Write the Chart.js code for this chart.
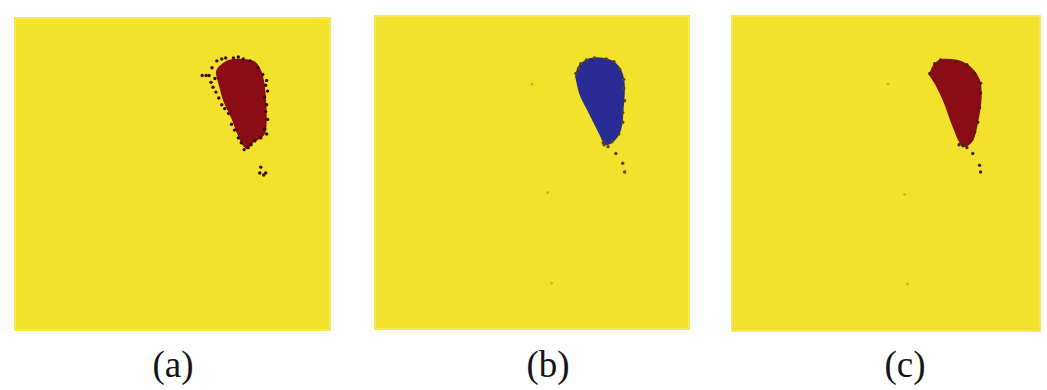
<!DOCTYPE html>
<html>
<head>
<meta charset="utf-8">
<script src="https://cdn.jsdelivr.net/npm/chart.js@4.4.1/dist/chart.umd.min.js"></script>
<style>
  body { margin: 0; background: #fff; width: 1047px; height: 390px; overflow: hidden; position: relative; }
  .panel { position: absolute; }
  .lbl { position: absolute; top: 344px; width: 90px; text-align: center; font-family: "Liberation Serif", serif;
         font-size: 37px; line-height: 42px; color: #151515; }
</style>
</head>
<body>
<div class="panel" style="left:10px;top:13px"><canvas id="chartA" width="325" height="322"></canvas></div>
<div class="panel" style="left:370px;top:11px"><canvas id="chartB" width="324" height="323"></canvas></div>
<div class="panel" style="left:727px;top:11px"><canvas id="chartC" width="318" height="325"></canvas></div>
<div id="labels"></div>
<script>
// panel captions
const panelLabels = ['(a)', '(b)', '(c)'];
const labelCenters = [173, 548, 905];

// blob outlines, in pixels from the top-left corner of each panel
const outlineA = [[210,52],[220,45],[235,44],[247,47],[254,60],[257,80],[258,104],[256,120],[245,128],[238,134],[230,120],[224,104],[216,87],[211,70],[208,57]];
const outlineB = [[207,62],[211,52],[222,45],[240,46],[251,54],[256,70],[255,95],[253,115],[248,126],[238,132],[231,120],[221,100],[212,82]];
const outlineC = [[204,61],[209,51],[218,46],[240,50],[254,66],[256,86],[252,112],[247,129],[238,134],[229,116],[219,89],[211,72]];

// dark dots on the rim and the tail below each blob
const rimA = [[193,60],[197,60],[200,60],[203,52],[208,45],[213,43],[217,42],[225,42],[230,41],[235,43],[242,45],[250,52],[255,59],[259,65],[258,70],[260,76],[257,82],[259,90],[258,97],[260,105],[257,115],[259,120],[253,124],[247,127],[243,131],[240,134],[236,136],[233,129],[230,124],[226,116],[223,110],[220,99],[216,94],[213,90],[210,83],[207,77],[204,72],[202,67],[206,63],[253,154],[252,160],[256,162],[258,160]];
const rimB = [[207,60],[210,55],[212,50],[218,46],[226,44],[238,45],[246,48],[252,56],[256,66],[256,75],[257,88],[255,100],[255,110],[251,122],[244,130],[236,133],[240,135],[235,131],[248,142],[255,152],[257,161]];
const rimC = [[204,60],[209,50],[215,46],[230,48],[242,51],[250,60],[256,70],[256,80],[255,95],[253,110],[250,120],[247,128],[238,134],[242,136],[234,133],[248,142],[255,154],[256,161]];

// faint marks elsewhere in the panel
const faintB = [[162,71],[178,182],[182,275]];
const faintC = [[161,71],[178,184],[181,276]];

const yellow = 'rgb(242,226,44)';

const yellowBg = {
  id: 'yellowBg',
  beforeDraw(chart) {
    const ctx = chart.ctx;
    const a = chart.chartArea;
    ctx.save();
    ctx.fillStyle = yellow;
    ctx.fillRect(a.left, a.top, a.right - a.left, a.bottom - a.top);
    ctx.strokeStyle = 'rgba(255,248,190,0.3)';
    ctx.lineWidth = 2;
    ctx.strokeRect(a.left + 1, a.top + 1, a.right - a.left - 2, a.bottom - a.top - 2);
    ctx.restore();
  }
};

const toPts = (arr) => arr.map(p => ({ x: p[0], y: p[1] }));

const makePanel = (id, w, h, outline, rim, faint, fillColor, rimColor) => {
  let ring = outline.concat([outline[0]]);
  new Chart(document.getElementById(id).getContext('2d'), {
    type: 'scatter',
    data: {
      datasets: [
        { data: toPts(ring), showLine: true, fill: 'shape', tension: 0.35, backgroundColor: fillColor,
          borderColor: fillColor, borderWidth: 2, pointRadius: 0, order: 2 },
        { data: toPts(rim), pointRadius: 1.7, backgroundColor: rimColor, borderWidth: 0, order: 1 },
        { data: toPts(faint), pointRadius: 1.4, backgroundColor: 'rgba(170,150,40,0.6)', borderWidth: 0, order: 0 }
      ]
    },
    options: {
      responsive: false,
      animation: false,
      layout: { padding: 0 },
      plugins: { legend: { display: false }, tooltip: { enabled: false } },
      scales: {
        x: { type: 'linear', min: 0, max: w, display: false },
        y: { min: 0, max: h, reverse: true, display: false }
      }
    },
    plugins: [yellowBg]
  });
};

makePanel('chartA', 325, 322, outlineA, rimA, [], 'rgb(138,12,20)', 'rgb(55,10,10)');
makePanel('chartB', 324, 323, outlineB, rimB, faintB, 'rgb(40,44,148)', 'rgb(90,65,30)');
makePanel('chartC', 318, 325, outlineC, rimC, faintC, 'rgb(138,12,20)', 'rgb(80,30,15)');

let html = '';
panelLabels.forEach((t, i) => {
  html += '<div class="lbl" style="left:' + (labelCenters[i] - 45) + 'px">' + t + '</div>';
});
document.getElementById('labels').innerHTML = html;
</script>
</body>
</html>
